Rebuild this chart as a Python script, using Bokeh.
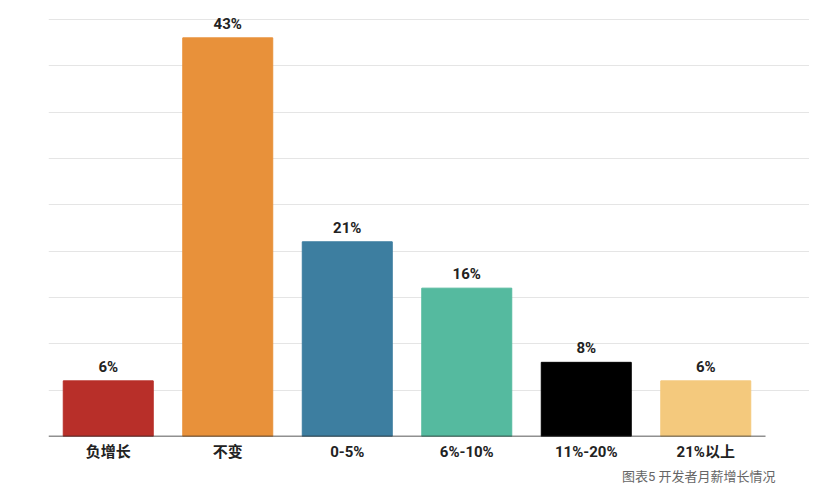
from bokeh.plotting import figure
from bokeh.models import ColumnDataSource, FixedTicker, Title
from bokeh.core.properties import value
from bokeh.embed import file_html
from bokeh.resources import INLINE

categories = ["负增长", "不变", "0-5%", "6%-10%", "11%-20%", "21%以上"]
values = [6, 43, 21, 16, 8, 6]
colors = ["#B82F29", "#E8913A", "#3D7EA0", "#55BA9F", "#000000", "#F4C97D"]
labels = [f"{v}%" for v in values]
caption = "图表5 开发者月薪增长情况"
grid_ticks = [5, 10, 15, 20, 25, 30, 35, 40, 45]

xs = list(range(len(categories)))
src = ColumnDataSource(dict(x=xs, top=values, color=colors, label=labels))

FONT = "Roboto, 'Noto Sans CJK SC', sans-serif"

p = figure(width=809, height=488, output_backend="svg", toolbar_location=None,
           x_range=(-0.5, 5.868), y_range=(0, 45.95),
           min_border_left=48, min_border_right=0, min_border_top=10, min_border_bottom=52)
p.outline_line_color = None
p.background_fill_color = "white"

p.vbar(x="x", top="top", width=0.753, color="color", source=src)
p.segment(x0=[-0.5], y0=[0], x1=[5.5], y1=[0], line_color="#222222", line_width=1.5)
p.text(x="x", y="top", text="label", source=src, text_align="center", text_baseline="bottom",
       y_offset=-5, text_font=value(FONT), text_font_style="bold", text_font_size="15px",
       text_color="#222222")

p.yaxis.visible = False
p.yaxis.ticker = FixedTicker(ticks=grid_ticks)
p.ygrid.ticker = FixedTicker(ticks=grid_ticks)
p.ygrid.grid_line_color = "#e5e5e5"
p.ygrid.grid_line_width = 1
p.xgrid.grid_line_color = None

p.xaxis.ticker = FixedTicker(ticks=xs)
p.xaxis.major_label_overrides = {i: c for i, c in enumerate(categories)}
p.xaxis.axis_line_color = None
p.xaxis.major_tick_line_color = None
p.xaxis.major_tick_out = 0
p.xaxis.major_tick_in = 0
p.xaxis.minor_tick_line_color = None
p.xaxis.major_label_standoff = 6
p.xaxis.major_label_text_font = FONT
p.xaxis.major_label_text_font_style = "bold"
p.xaxis.major_label_text_font_size = "15px"
p.xaxis.major_label_text_color = "#222222"

p.add_layout(Title(text=caption, align="right", offset=34, text_font=FONT,
                   text_font_style="normal", text_font_size="13px", text_color="#666666",
                   standoff=6), "below")

open("out.html", "w").write(file_html(p, INLINE))
